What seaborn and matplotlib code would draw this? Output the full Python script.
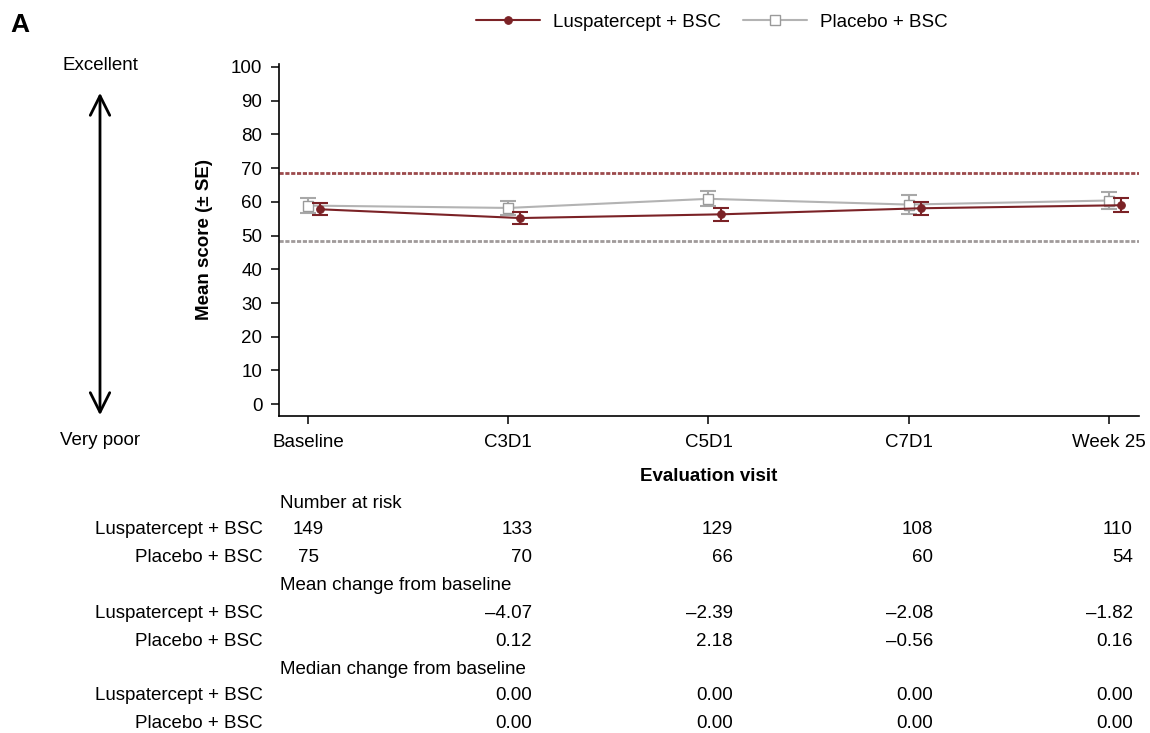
import numpy as np
import pandas as pd
import matplotlib
matplotlib.use("Agg")
import matplotlib.pyplot as plt
import matplotlib.transforms as mtransforms
import seaborn as sns

# Visits and mean scores (+/- SE)
visits = ['Baseline', 'C3D1', 'C5D1', 'C7D1', 'Week 25']
lusp_mean = [57.8, 55.2, 56.3, 58.1, 59.0]
lusp_se = [1.75, 1.8, 1.95, 2.0, 2.0]
plac_mean = [58.9, 58.2, 60.9, 59.2, 60.4]
plac_se = [2.1, 2.15, 2.2, 2.8, 2.5]

# reference (dotted) lines
lusp_ref = 68.5
plac_ref = 48.5

# table below the plot
n_lusp = [149, 133, 129, 108, 110]
n_plac = [75, 70, 66, 60, 54]
mean_chg_lusp = [-4.07, -2.39, -2.08, -1.82]
mean_chg_plac = [0.12, 2.18, -0.56, 0.16]
median_chg_lusp = [0.00, 0.00, 0.00, 0.00]
median_chg_plac = [0.00, 0.00, 0.00, 0.00]

LUSP = 'Luspatercept + BSC'
PLAC = 'Placebo + BSC'
LUSP_COLOR = '#7b2226'
PLAC_COLOR = '#b3b3b3'
FS = 13.5


def fmt(v):
    s = f'{v:.2f}'
    return s.replace('-', '\u2013')


sns.set_style('ticks')
plt.rcParams['font.family'] = ['Liberation Sans', 'DejaVu Sans']
plt.rcParams['font.size'] = FS
for key in ['text.color', 'axes.labelcolor', 'xtick.color', 'ytick.color', 'axes.edgecolor']:
    plt.rcParams[key] = 'black'

fig = plt.figure(figsize=(11.5, 7.33), dpi=100)
ax = fig.add_axes([279 / 1150, 1 - 416 / 733, (1139 - 279) / 1150, (416 - 63.6) / 733])

pos = np.arange(len(visits))
df_lusp = pd.DataFrame({'x': pos + 0.06, 'score': lusp_mean})
df_plac = pd.DataFrame({'x': pos, 'score': plac_mean})

sns.lineplot(data=df_plac, x='x', y='score', ax=ax, color=PLAC_COLOR, lw=1.5,
             marker='s', markersize=6.5, markerfacecolor='white',
             markeredgecolor='#9a9a9a', markeredgewidth=1.0, label=PLAC, zorder=3)
ax.errorbar(df_plac['x'], plac_mean, yerr=plac_se, fmt='none', ecolor='#a8a8a8',
            elinewidth=1.5, capsize=6, capthick=1.5, zorder=2)

sns.lineplot(data=df_lusp, x='x', y='score', ax=ax, color=LUSP_COLOR, lw=1.5,
             marker='o', markersize=5.5, markeredgecolor=LUSP_COLOR, label=LUSP, zorder=4)
ax.errorbar(df_lusp['x'], lusp_mean, yerr=lusp_se, fmt='none', ecolor=LUSP_COLOR,
            elinewidth=1.5, capsize=6, capthick=1.5, zorder=4)

ax.axhline(lusp_ref, color='#9c4a4c', lw=2, ls=(0, (1.5, 0.6)), zorder=1)
ax.axhline(plac_ref, color='#a09a9a', lw=2, ls=(0, (1.5, 0.6)), zorder=1)

ax.set_xlim(-0.145, 4.15)
ax.set_ylim(-3.5, 101)
ax.set_xticks(pos)
ax.set_xticklabels(visits)
ax.set_yticks(range(0, 101, 10))
ax.tick_params(axis='both', labelsize=FS, length=6, width=1.1, color='black')
ax.tick_params(axis='x', pad=7)
ax.tick_params(axis='y', pad=6)
for s in ['left', 'bottom']:
    ax.spines[s].set_linewidth(1.2)
    ax.spines[s].set_color('black')
sns.despine(ax=ax)
ax.set_xlabel('Evaluation visit', fontsize=FS, fontweight='bold', labelpad=12)
ax.set_ylabel('Mean score (\u00b1 SE)', fontsize=FS, fontweight='bold', labelpad=13)

# legend on top of the figure
handles, labels = ax.get_legend_handles_labels()
ax.get_legend().remove()
order = [labels.index(LUSP), labels.index(PLAC)]
fig.legend([handles[i] for i in order], [labels[i] for i in order],
           loc='center', bbox_to_anchor=(712 / 1150, 1 - 22 / 733), ncol=2,
           frameon=False, fontsize=FS, handlelength=3.4, handletextpad=0.7,
           columnspacing=1.2)

# panel letter, scale annotation and arrow
fig.text(20 / 1150, 1 - 25 / 733, 'A', fontsize=19, fontweight='bold', ha='center', va='center')
fig.text(100 / 1150, 1 - 66 / 733, 'Excellent', fontsize=FS, ha='center', va='center')
fig.text(100 / 1150, 1 - 441 / 733, 'Very poor', fontsize=FS, ha='center', va='center')
fig.patches.append(matplotlib.patches.FancyArrowPatch(
    (100 / 1150, 1 - 418 / 733), (100 / 1150, 1 - 90 / 733),
    transform=fig.transFigure, arrowstyle='<->,head_length=0.7,head_width=0.35',
    mutation_scale=20, lw=2, color='black'))

# table under the plot: x in data units, y in figure units
trans = mtransforms.blended_transform_factory(ax.transData, fig.transFigure)
lab_x = 263 / 1150
head_x = 280 / 1150
col_off = 0.12


def yfig(py):
    return 1 - py / 733


rows = [
    ('Number at risk', None, None),
    (LUSP, n_lusp, 'n'),
    (PLAC, n_plac, 'n'),
    ('Mean change from baseline', None, None),
    (LUSP, mean_chg_lusp, 'c'),
    (PLAC, mean_chg_plac, 'c'),
    ('Median change from baseline', None, None),
    (LUSP, median_chg_lusp, 'c'),
    (PLAC, median_chg_plac, 'c'),
]
row_y = [503, 530, 558, 586, 614, 642, 669, 696, 723]

for (label, vals, kind), py in zip(rows, row_y):
    y = yfig(py)
    if vals is None:
        fig.text(head_x, y, label, fontsize=FS, ha='left', va='center')
        continue
    fig.text(lab_x, y, label, fontsize=FS, ha='right', va='center')
    if kind == 'n':
        ax.text(0, y, str(vals[0]), transform=trans, fontsize=FS, ha='center', va='center')
        for i, v in enumerate(vals[1:], start=1):
            ax.text(i + col_off, y, str(v), transform=trans, fontsize=FS, ha='right', va='center')
    else:
        for i, v in enumerate(vals, start=1):
            ax.text(i + col_off, y, fmt(v), transform=trans, fontsize=FS, ha='right', va='center')

fig.savefig('out.png', dpi=100)
